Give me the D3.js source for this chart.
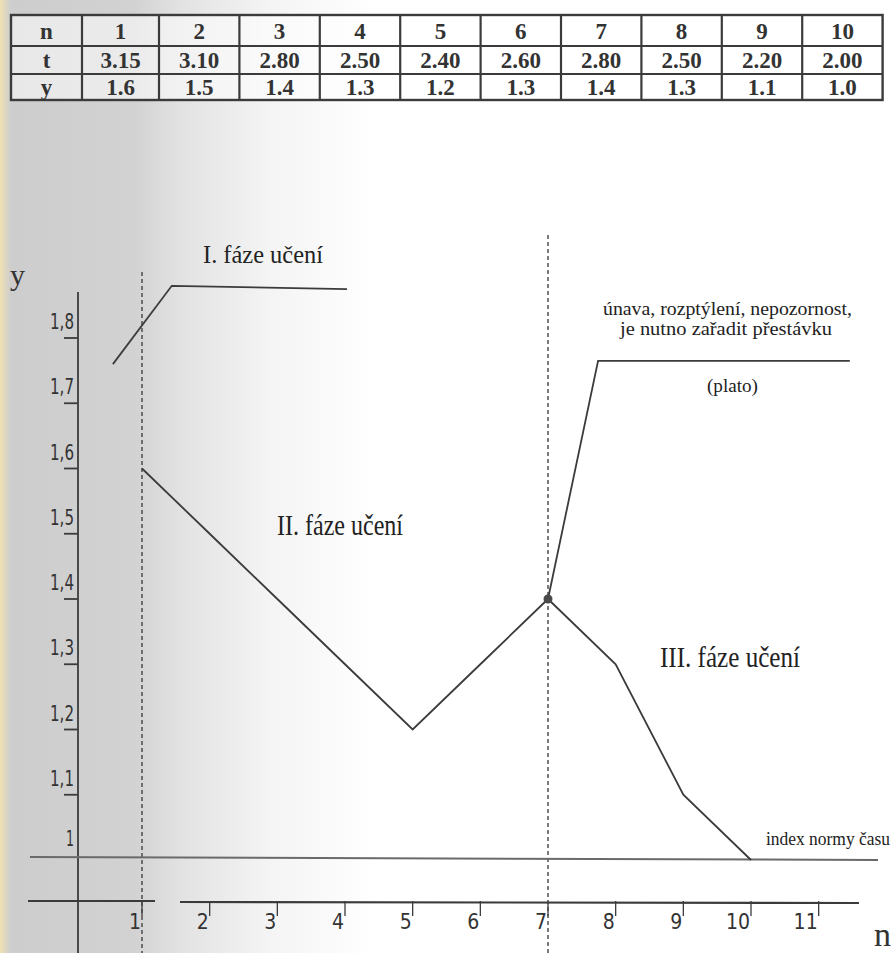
<!DOCTYPE html>
<html>
<head>
<meta charset="utf-8">
<script src="https://cdn.jsdelivr.net/npm/d3@7"></script>
<style>
  body { margin: 0; background: #fff; }
  svg { display: block; }
</style>
</head>
<body>
<svg id="chart"></svg>
<script>
const width = 896
const height = 953

// table data
const nValues = [1, 2, 3, 4, 5, 6, 7, 8, 9, 10]
const tValues = ["3.15", "3.10", "2.80", "2.50", "2.40", "2.60", "2.80", "2.50", "2.20", "2.00"]
const yValues = [1.6, 1.5, 1.4, 1.3, 1.2, 1.3, 1.4, 1.3, 1.1, 1.0]

// axis ticks
const yTicks = [1.0, 1.1, 1.2, 1.3, 1.4, 1.5, 1.6, 1.7, 1.8]
const xTicks = [1, 2, 3, 4, 5, 6, 7, 8, 9, 10, 11]

// schematic curves (n, y)
const phaseOne = [[0.57, 1.76], [1.44, 1.88], [4.03, 1.875]]
const platoCurve = [[7, 1.4], [7.74, 1.765], [11.46, 1.765]]
const normIndex = 1.0
const phaseBreaks = [1, 7]

const svg = d3.select("#chart")
            .attr("width", width)
            .attr("height", height)
            .style("font-family", "'Liberation Serif', serif");

// scanned-paper shading on the left
const grad = svg.append("defs").append("linearGradient")
    .attr("id", "paper")
    .attr("x1", 0).attr("x2", 1).attr("y1", 0).attr("y2", 0);
[[0, "#efe2b4"], [0.012, "#cdcdcd"], [0.15, "#d2d2d2"], [0.2, "#e2e2e2"], [0.3, "#f4f4f4"], [0.42, "#ffffff"]]
    .forEach(s => grad.append("stop").attr("offset", s[0]).attr("stop-color", s[1]));
svg.append("rect").attr("width", width).attr("height", height).attr("fill", "url(#paper)");

const x = d3.scaleLinear().domain([1, 7]).range([142, 548])
const y = d3.scaleLinear().domain([1.0, 1.8]).range([860, 338])

const ink = "#3b3b3b"
const narrow = "'DejaVu Sans Condensed', 'Liberation Sans', sans-serif"

// ---- table ----
const table = svg.append("g").attr("class", "table")
const colEdges = [11, 82, 159]
for (let i = 1; i <= 9; i++) colEdges.push(159 + i * 80.4)
const rowEdges = [15, 46, 74, 100]
const rows = [
    ["n"].concat(nValues.map(String)),
    ["t"].concat(tValues),
    ["y"].concat(yValues.map(v => v.toFixed(1)))
]

table.append("rect")
    .attr("x", colEdges[0]).attr("y", rowEdges[0])
    .attr("width", colEdges[colEdges.length - 1] - colEdges[0])
    .attr("height", rowEdges[3] - rowEdges[0])
    .attr("fill", "#fff").attr("fill-opacity", 0.55)
    .attr("stroke", ink).attr("stroke-width", 2.4);

table.selectAll("line.col")
    .data(colEdges.slice(1, -1))
    .enter().append("line")
    .attr("x1", d => d).attr("x2", d => d)
    .attr("y1", rowEdges[0]).attr("y2", rowEdges[3])
    .attr("stroke", ink).attr("stroke-width", 2.2);

table.selectAll("line.row")
    .data(rowEdges.slice(1, -1))
    .enter().append("line")
    .attr("x1", colEdges[0]).attr("x2", colEdges[colEdges.length - 1])
    .attr("y1", d => d).attr("y2", d => d)
    .attr("stroke", ink).attr("stroke-width", 2.2);

rows.forEach((row, r) => {
    table.selectAll("text.r" + r)
        .data(row)
        .enter().append("text")
        .attr("x", (d, i) => (colEdges[i] + colEdges[i + 1]) / 2)
        .attr("y", (rowEdges[r] + rowEdges[r + 1]) / 2 + 8)
        .attr("text-anchor", "middle")
        .attr("font-weight", "bold")
        .attr("font-size", 23)
        .attr("fill", "#333")
        .text(d => d);
});

// ---- axes ----
svg.append("line")
    .attr("x1", 78).attr("x2", 78).attr("y1", 292).attr("y2", height)
    .attr("stroke", ink).attr("stroke-width", 1.8);

svg.selectAll("line.ytick")
    .data(yTicks.filter(d => d > 1))
    .enter().append("line")
    .attr("x1", 64).attr("x2", 78)
    .attr("y1", d => y(d)).attr("y2", d => y(d))
    .attr("stroke", ink).attr("stroke-width", 1.8);

svg.selectAll("text.ylab")
    .data(yTicks)
    .enter().append("text")
    .attr("x", 74)
    .attr("y", d => y(d) - (d === 1 ? 14 : 9))
    .attr("text-anchor", "end")
    .attr("font-family", narrow)
    .attr("font-size", 21)
    .attr("fill", "#333")
    .attr("textLength", d => d === 1 ? 8 : 24)
    .attr("lengthAdjust", "spacingAndGlyphs")
    .text(d => d === 1 ? "1" : d3.format(".1f")(d).replace(".", ","));

svg.append("text")
    .attr("x", 10).attr("y", 285)
    .attr("font-size", 30).attr("fill", "#333")
    .text("y");

// x axis with a gap near n = 1
const xAxisY = 901
svg.append("line")
    .attr("x1", 28).attr("x2", 155).attr("y1", xAxisY).attr("y2", xAxisY)
    .attr("stroke", ink).attr("stroke-width", 2.2);
svg.append("line")
    .attr("x1", 180).attr("x2", 859).attr("y1", xAxisY + 1).attr("y2", xAxisY + 2)
    .attr("stroke", ink).attr("stroke-width", 2.2);

svg.selectAll("line.xtick")
    .data(xTicks)
    .enter().append("line")
    .attr("x1", d => x(d)).attr("x2", d => x(d))
    .attr("y1", xAxisY).attr("y2", xAxisY + 15)
    .attr("stroke", ink).attr("stroke-width", 1.3);

svg.selectAll("text.xlab")
    .data(xTicks)
    .enter().append("text")
    .attr("x", d => x(d) - 1)
    .attr("y", xAxisY + 28)
    .attr("text-anchor", "end")
    .attr("font-family", narrow)
    .attr("font-size", 21)
    .attr("fill", "#333")
    .text(d => d);

svg.append("text")
    .attr("x", 874).attr("y", 946)
    .attr("font-size", 34).attr("fill", "#333")
    .text("n");

// dashed phase separators
svg.selectAll("line.sep")
    .data(phaseBreaks)
    .enter().append("line")
    .attr("x1", d => x(d)).attr("x2", d => x(d))
    .attr("y1", (d, i) => i === 0 ? 272 : 235).attr("y2", height)
    .attr("stroke", "#444").attr("stroke-width", 1.4)
    .attr("stroke-dasharray", "4,3");

// norm index line
svg.append("line")
    .attr("x1", 30).attr("x2", 878)
    .attr("y1", y(normIndex) - 3).attr("y2", y(normIndex))
    .attr("stroke", "#6a6a6a").attr("stroke-width", 2);

// ---- curves ----
const line = d3.line().x(d => x(d[0])).y(d => y(d[1]))

const phaseTwo = nValues.slice(0, 7).map((n, i) => [n, yValues[i]])
const phaseThree = nValues.slice(6).map((n, i) => [n, yValues[i + 6]])

;[phaseOne, phaseTwo, phaseThree, platoCurve].forEach(pts => {
    svg.append("path")
        .attr("d", line(pts))
        .attr("fill", "none")
        .attr("stroke", ink)
        .attr("stroke-width", 1.8);
});

svg.append("circle")
    .attr("cx", x(7)).attr("cy", y(yValues[6]))
    .attr("r", 4.5).attr("fill", "#4a4a4a");

// ---- annotations ----
const notes = [
    { text: "I. fáze učení", x: 203, y: 263, size: 25, len: 120 },
    { text: "II. fáze učení", x: 277, y: 535, size: 30, len: 126 },
    { text: "III. fáze učení", x: 660, y: 667, size: 30, len: 140 },
    { text: "únava, rozptýlení, nepozornost,", x: 603, y: 315, size: 19, len: 249 },
    { text: "je nutno zařadit přestávku", x: 620, y: 335, size: 19, len: 212 },
    { text: "(plato)", x: 707, y: 392, size: 19, len: 51 },
    { text: "index normy času", x: 766, y: 845, size: 18, len: 124 }
]

svg.selectAll("text.note")
    .data(notes)
    .enter().append("text")
    .attr("x", d => d.x).attr("y", d => d.y)
    .attr("font-size", d => d.size)
    .attr("textLength", d => d.len)
    .attr("lengthAdjust", "spacingAndGlyphs")
    .attr("fill", "#222")
    .text(d => d.text);
</script>
</body>
</html>
